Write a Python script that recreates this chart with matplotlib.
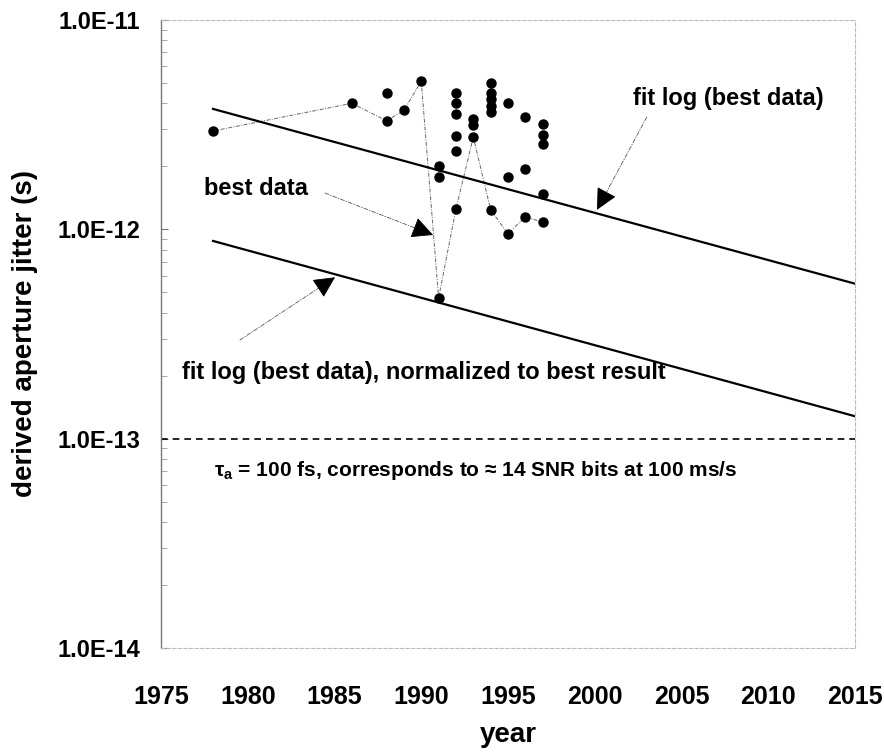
import matplotlib
matplotlib.use("Agg")
import numpy as np
import matplotlib.pyplot as plt
from matplotlib import font_manager as fm
from matplotlib.ticker import FixedLocator, LogLocator, NullFormatter

# ---------------- data ----------------
all_years = [1978, 1986, 1988, 1988, 1989, 1990,
             1991, 1991, 1991,
             1992, 1992, 1992, 1992, 1992, 1992,
             1993, 1993, 1993,
             1994, 1994, 1994, 1994, 1994, 1994,
             1995, 1995, 1995,
             1996, 1996, 1996,
             1997, 1997, 1997, 1997, 1997]
all_vals = [2.95e-12, 4.0e-12, 4.5e-12, 3.3e-12, 3.7e-12, 5.1e-12,
            2.0e-12, 1.78e-12, 4.7e-13,
            4.5e-12, 4.0e-12, 3.55e-12, 2.8e-12, 2.36e-12, 1.25e-12,
            3.37e-12, 3.15e-12, 2.76e-12,
            5.0e-12, 4.5e-12, 4.2e-12, 3.9e-12, 3.65e-12, 1.24e-12,
            4.0e-12, 1.78e-12, 9.5e-13,
            3.45e-12, 1.94e-12, 1.15e-12,
            3.18e-12, 2.82e-12, 2.55e-12, 1.47e-12, 1.08e-12]

best_years = [1978, 1986, 1988, 1989, 1990, 1991, 1992, 1993, 1994, 1995, 1996, 1997]
best_vals = [2.95e-12, 4.0e-12, 3.3e-12, 3.7e-12, 5.1e-12, 4.7e-13,
             1.25e-12, 2.76e-12, 1.24e-12, 9.5e-13, 1.15e-12, 1.08e-12]

fit_years = [1978, 2015]
fit_best = [3.76e-12, 5.5e-13]
fit_norm = [8.8e-13, 1.28e-13]

ref_level = 1.0e-13

x_ticks = [1975, 1980, 1985, 1990, 1995, 2000, 2005, 2010, 2015]
y_ticks = [1e-14, 1e-13, 1e-12, 1e-11]
y_tick_labels = ["1.0E-14", "1.0E-13", "1.0E-12", "1.0E-11"]

# ---------------- fonts ----------------
avail = {f.name for f in fm.fontManager.ttflist}
base = "Liberation Sans" if "Liberation Sans" in avail else "DejaVu Sans"
narrow = "Liberation Sans Narrow" if "Liberation Sans Narrow" in avail else base
plt.rcParams["font.family"] = [base, "DejaVu Sans"]

fig = plt.figure(figsize=(8.84, 7.56), dpi=100)
ax = fig.add_axes([161/884, 1-648/756, (855-161)/884, (648-20)/756])

ax.set_yscale("log")
ax.set_xlim(1975, 2015)
ax.set_ylim(1e-14, 1e-11)

# data
ax.plot(best_years, best_vals, color="#666666", lw=0.7, linestyle=(0, (4, 1.5, 1, 1.5)), zorder=2)
ax.plot(all_years, all_vals, linestyle="none", marker="o", color="black", markersize=6.5, zorder=3)
ax.plot(fit_years, fit_best, color="black", lw=1.6, zorder=2)
ax.plot(fit_years, fit_norm, color="black", lw=1.6, zorder=2)
ax.axhline(ref_level, color="black", lw=1.2, linestyle=(0, (4, 3)), zorder=2)

# ticks
ax.xaxis.set_major_locator(FixedLocator(x_ticks))
ax.set_xticklabels([str(t) for t in x_ticks], fontsize=18, fontweight="bold", family=[narrow, base])
ax.tick_params(axis="x", length=0, pad=27)
ax.yaxis.set_major_locator(FixedLocator(y_ticks))
ax.set_yticklabels(y_tick_labels, fontsize=17, fontweight="bold")
ax.yaxis.set_minor_locator(LogLocator(base=10, subs=range(2, 10)))
ax.yaxis.set_minor_formatter(NullFormatter())
ax.tick_params(axis="y", which="major", direction="in", length=5, color="#777777", pad=15)
ax.tick_params(axis="y", which="minor", direction="in", length=4, color="#999999")

for s in ["top", "right", "bottom"]:
    ax.spines[s].set_color("#bbbbbb")
    ax.spines[s].set_linewidth(0.8)
    ax.spines[s].set_linestyle((0, (3, 2)))
ax.spines["left"].set_color("#777777")
ax.spines["left"].set_linewidth(1.0)

ax.set_xlabel("year", fontsize=20, fontweight="bold", labelpad=9)
ax.set_ylabel("derived aperture jitter (s)", fontsize=20, fontweight="bold", labelpad=14)


# annotations: dashed gray shaft + solid black triangular head
def pointer(tip, start):
    ax.annotate("", xy=tip, xytext=start,
                arrowprops=dict(arrowstyle="-", color="#555555", lw=0.6,
                                linestyle=(0, (5, 2, 1, 2)), shrinkA=0, shrinkB=0))
    p0 = ax.transData.transform(start)
    p1 = ax.transData.transform(tip)
    d = (p1 - p0) / np.hypot(*(p1 - p0))
    ax.annotate("", xy=tip, xytext=(-d[0] * 14, -d[1] * 14), textcoords="offset pixels",
                arrowprops=dict(arrowstyle="-|>,head_length=0.9,head_width=0.45", color="black",
                                lw=0.6, shrinkA=0, shrinkB=0, mutation_scale=15))


ax.text(1980.5, 1.57e-12, "best data", fontsize=17, fontweight="bold", ha="center", va="center")
pointer((1990.68, 9.4e-13), (1984.45, 1.49e-12))

ax.text(2002.2, 4.24e-12, "fit log (best data)", fontsize=17, fontweight="bold", ha="left", va="center")
pointer((2000.13, 1.24e-12), (2003.0, 3.44e-12))

ax.text(1976.2, 2.06e-13, "fit log (best data), normalized to best result", fontsize=17,
        fontweight="bold", ha="left", va="center")
pointer((1985.03, 5.9e-13), (1979.55, 2.96e-13))

ax.text(1978.05, 7.08e-14, r"$\mathregular{τ_a}$ = 100 fs, corresponds to ≈ 14 SNR bits at 100 ms/s",
        fontsize=15, fontweight="bold", ha="left", va="center", family=[narrow, base])

fig.savefig("out.png", dpi=100)
